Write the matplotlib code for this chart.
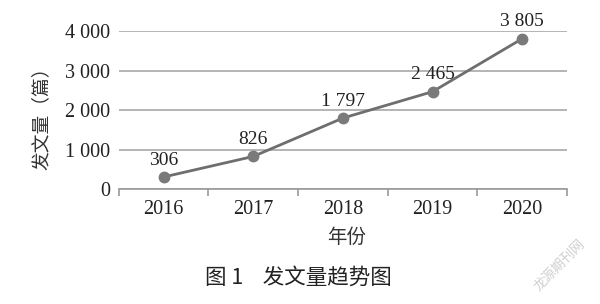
import matplotlib
matplotlib.use("Agg")
import matplotlib.pyplot as plt
from matplotlib.ticker import FuncFormatter

years = ["2016", "2017", "2018", "2019", "2020"]
counts = [306, 826, 1797, 2465, 3805]
yticks = [0, 1000, 2000, 3000, 4000]

serif = "Liberation Serif"
cjk = ["Noto Sans CJK SC", "DejaVu Sans"]

def thin_sep(v, pos=None):
    # 千位用空格分隔，跟原图一样
    return f"{int(v):,}".replace(",", " ")

fig = plt.figure(figsize=(6, 3.04), dpi=100)
ax = fig.add_axes([0.198, 0.378, 0.747, 0.52])

x = list(range(len(years)))
ax.plot(x, counts, color="#6e6e6e", linewidth=2, marker="o",
        markersize=7.5, markerfacecolor="#7a7a7a", markeredgecolor="#7a7a7a", zorder=3)
for xi, v in zip(x, counts):
    ax.annotate(thin_sep(v), (xi, v), xytext=(0, 6), textcoords="offset points",
                ha="center", va="bottom", fontsize=14, family=serif, color="#222222")

ax.set_xlim(-0.5, len(years) - 0.5)
ax.set_ylim(0, 4000)
ax.set_yticks(yticks)
ax.yaxis.set_major_formatter(FuncFormatter(thin_sep))
ax.set_xticks(x)
ax.set_xticklabels(years)
ax.set_xticks([i - 0.5 for i in range(len(years) + 1)], minor=True)
ax.tick_params(axis="x", which="major", length=0, pad=8)
ax.tick_params(axis="x", which="minor", length=5, color="#9a9a9a", width=1.2)
ax.tick_params(axis="y", length=0, pad=6)
for lab in ax.get_xticklabels() + ax.get_yticklabels():
    lab.set_fontfamily(serif)
    lab.set_fontsize(14.5)
    lab.set_color("#222222")

ax.grid(axis="y", color="#a8a8a8", linewidth=1.2)
ax.set_axisbelow(True)
for s in ["top", "right", "left"]:
    ax.spines[s].set_visible(False)
ax.spines["bottom"].set_color("#9a9a9a")
ax.spines["bottom"].set_linewidth(1.2)

fig.text(0.068, 0.625, "发文量（篇）", rotation=90, ha="center", va="center",
         fontsize=13.5, family=cjk, color="#333333", fontweight="light")
fig.text(0.578, 0.22, "年份", ha="center", va="center",
         fontsize=14, family=cjk, color="#333333", fontweight="light")
fig.text(0.497, 0.086, "图 1    发文量趋势图", ha="center", va="center",
         fontsize=15.5, family=cjk, color="#222222", fontweight="light")
fig.text(0.933, 0.128, "龙源期刊网", rotation=45, ha="center", va="center",
         fontsize=9.5, family=cjk, color="#cfcfcf")

fig.savefig("out.png", dpi=100)
